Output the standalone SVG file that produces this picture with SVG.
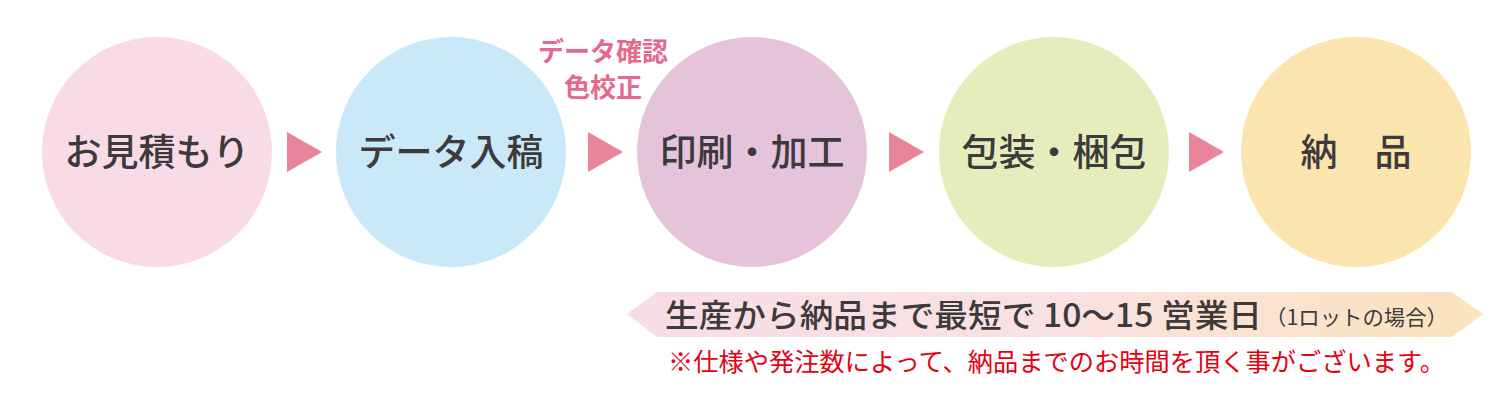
<svg xmlns="http://www.w3.org/2000/svg" width="1512" height="412" viewBox="0 0 1512 412">
<style>
text{font-family:"Noto Sans CJK JP","Noto Sans",sans-serif}
.lbl{font-size:37px;font-weight:500;fill:#3c3a3b;text-anchor:middle}
.arr{fill:#e8859a}
.pink{font-size:26px;font-weight:700;fill:#e5698c;text-anchor:middle}
.ban{font-size:32px;font-weight:500;fill:#3c3a3b}
.note{font-size:25px;font-weight:400;fill:#e50012}
</style>
<defs>
<linearGradient id="bg" x1="0" y1="0" x2="1" y2="0">
<stop offset="0" stop-color="#f6dde6"/>
<stop offset="0.5" stop-color="#f9e2e2"/>
<stop offset="1" stop-color="#fbe3bd"/>
</linearGradient>
</defs>
<g id="n1"><circle cx="157" cy="152" r="115" fill="#f8dbe7"/><text class="lbl" x="157" y="166">お見積もり</text></g>
<g id="n2"><circle cx="451" cy="152" r="115" fill="#c9e8f8"/><text class="lbl" x="451" y="166">データ入稿</text></g>
<g id="n3"><circle cx="752" cy="152" r="115" fill="#e5c3db"/><text class="lbl" x="752" y="166">印刷・加工</text></g>
<g id="n4"><circle cx="1054" cy="152" r="115" fill="#e5edbc"/><text class="lbl" x="1054" y="166">包装・梱包</text></g>
<g id="n5"><circle cx="1356" cy="152" r="115" fill="#fce4ae"/><text class="lbl" x="1356" y="166">納　品</text></g>
<g id="connectors">
<polygon class="arr" points="287,132 322,152 287,172"/>
<polygon class="arr" points="588,132 623,152 588,172"/>
<polygon class="arr" points="889,132 924,152 889,172"/>
<polygon class="arr" points="1189,132 1224,152 1189,172"/>
</g>
<g id="check"><text class="pink" x="603" y="61">データ確認</text><text class="pink" x="603" y="97">色校正</text></g>
<g id="banner">
<polygon points="627,314 657,292 1452,292 1483,314 1452,337 657,337" fill="url(#bg)"/>
<text class="ban" x="665" y="327" textLength="597" lengthAdjust="spacingAndGlyphs">生産から納品まで最短で 10〜15 営業日</text>
<text x="1265" y="325" font-size="21" font-weight="400" fill="#3c3a3b" textLength="183" lengthAdjust="spacingAndGlyphs">（1ロットの場合）</text>
</g>
<text class="note" x="668" y="371" textLength="777" lengthAdjust="spacingAndGlyphs">※仕様や発注数によって、納品までのお時間を頂く事がございます。</text>
</svg>
